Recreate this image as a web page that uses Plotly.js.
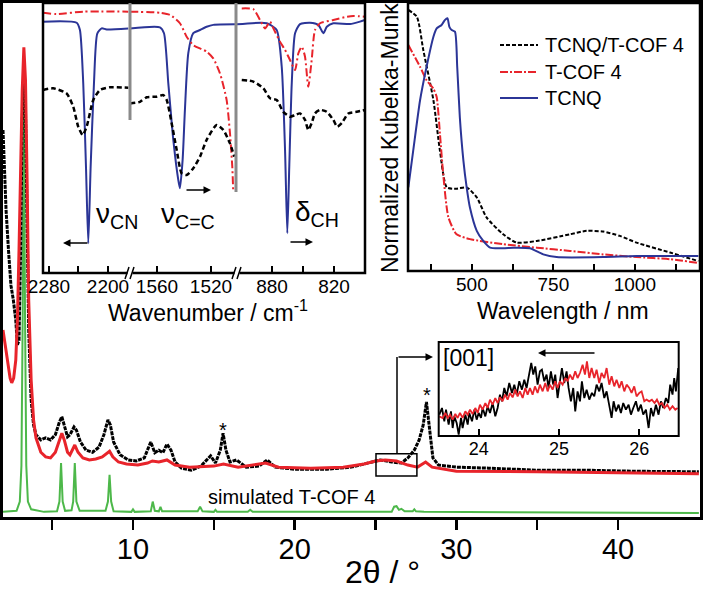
<!DOCTYPE html>
<html>
<head>
<meta charset="utf-8">
<script src="https://cdn.plot.ly/plotly-3.0.1.min.js"></script>
<style>html,body{margin:0;padding:0;background:#fff;}#chart{width:704px;height:591px;}</style>
</head>
<body>
<div id="chart"></div>
<script>
// ---------------- Main PXRD (2θ / °) ----------------
const xrdBlackX = [1.96,2.05,2.15,2.3,2.45,2.6,2.75,2.85,2.95,3.05,3.15,3.25,3.35,3.45,3.55,3.7,3.85,4.0,4.3,4.6,4.9,5.2,5.45,5.6,5.75,5.95,6.1,6.35,6.5,6.75,7.1,7.5,7.9,8.2,8.45,8.6,8.8,9.2,9.7,10.2,10.7,11.0,11.1,11.35,11.6,11.85,12.1,12.35,12.6,13.0,13.6,14.2,14.8,15.1,15.4,15.57,15.75,16.0,16.4,17.0,17.8,18.3,18.8,20,22,23.5,24.5,25.3,26.0,26.6,27.0,27.4,27.7,27.95,28.15,28.35,28.55,28.9,30,32,35,38,41,45];
const xrdBlackY = [75.3,67.5,59.7,51.9,45.1,42.2,38.3,33.5,34.4,51.9,77.2,87.0,79.2,57.8,36.4,22.8,17.9,16.0,15.0,15.4,15.0,16.0,18.5,19.5,17.9,15.6,16.0,17.5,16.9,14.6,13.0,12.6,13.6,16.0,18.9,17.9,14.6,12.1,11.1,10.9,11.5,13.6,14.6,12.5,13.0,12.5,14.2,13.0,10.7,9.5,9.1,9.9,11.9,10.5,13.0,16.3,13.0,10.7,11.1,9.7,9.9,11.1,9.7,9.3,9.3,9.7,10.5,11.1,10.7,10.5,11.5,13.0,15.0,17.9,22.4,16.9,11.5,10.1,9.7,9.5,9.1,9.1,8.9,8.8];

const xrdRedX = [1.96,2.1,2.25,2.4,2.5,2.62,2.75,2.85,2.95,3.05,3.15,3.25,3.35,3.45,3.55,3.7,3.85,4.0,4.3,4.6,4.9,5.2,5.45,5.6,5.75,5.95,6.1,6.3,6.4,6.6,6.9,7.3,7.7,8.1,8.4,8.55,8.75,9.1,9.6,10.3,10.9,11.2,11.6,12.1,12.6,13.5,15,15.6,16.5,18.2,19,21,23,24.3,25,25.6,26.3,27,27.6,28.1,28.5,30,35,40,45];
const xrdRedY = [36.4,33.5,29.6,27.0,26.1,27.0,30.5,38.3,51.9,67.5,83.1,91.4,85.0,65.6,42.2,26.7,18.9,15.4,12.6,11.7,11.5,12.6,15.0,16.3,15.0,12.6,12.1,13.4,14.0,12.6,11.5,11.1,11.3,11.7,12.5,12.8,11.7,10.7,10.3,10.1,10.5,10.9,10.7,11.1,10.1,9.7,9.9,10.3,9.7,10.5,9.7,9.5,9.7,10.3,10.9,11.1,10.9,10.1,9.7,10.7,9.7,8.9,8.8,8.6,8.4];

const xrdSimX = [1.96,2.8,3.0,3.1,3.18,3.25,3.32,3.4,3.5,3.7,4.5,5.3,5.45,5.55,5.65,5.8,6.2,6.3,6.4,6.5,6.7,8.3,8.45,8.55,8.65,8.8,9.9,10.0,10.1,11.1,11.22,11.35,11.6,11.7,11.8,14.0,14.15,14.3,15.0,15.1,15.2,17.1,17.25,17.4,20.0,26.0,26.15,26.3,26.45,26.6,26.8,27.3,27.4,27.5,28.0,45];
const xrdSimY = [1.0,1.2,3,10,40,84,40,10,3,1.5,1.0,1.1,3,10.5,3,1.2,1.3,3,10.5,3,1.2,1.2,3,8.2,3,1.1,1.0,1.5,1.0,1.1,3.0,1.2,1.1,2.0,1.1,1.1,2.0,1.1,1.0,1.4,1.0,1.0,1.4,1.0,1.0,1.0,2.0,2.1,1.4,1.6,1.1,1.1,1.5,1.1,1.0,0.8];

// ---------------- IR inset (three wavenumber windows) ----------------
const irBlueW1 = [2288,2242.4,2238.0,2233.5,2229.8,2226.7,2223.5,2219.0,2214.5,2208.5,2201.8,2172.5];
const irBlueV1 = [0.931,0.927,0.9,0.702,0.394,0.11,0.394,0.702,0.887,0.906,0.902,0.906];
const irBlueW2 = [1580,1557.8,1554.8,1551.6,1547.9,1544.2,1543.0,1541.0,1539.3,1536.8,1533.1,1528.1,1523.2,1518.3,1502.2];
const irBlueV2 = [0.906,0.91,0.888,0.702,0.493,0.344,0.314,0.419,0.604,0.814,0.888,0.9,0.912,0.919,0.921];
const irBlueW3 = [913.9,885.1,875.5,870.6,867.4,865.2,863.3,860.9,857.7,852.9,843.2,835.2,830.3,827.0,820.7,804.5,794.8,790];
const irBlueV3 = [0.921,0.925,0.9,0.764,0.456,0.147,0.394,0.702,0.888,0.922,0.927,0.919,0.888,0.912,0.925,0.922,0.931,0.937];

const irRedW1 = [2288,2269.6,2233.5,2172.5];
const irRedV1 = [0.964,0.959,0.968,0.968];
const irRedW2 = [1580,1557.8,1550.4,1543.0,1538.0,1533.1,1523.2,1518.3,1513.3,1508.4,1505.9,1504.2,1503.5];
const irRedV2 = [0.968,0.964,0.956,0.925,0.875,0.844,0.82,0.795,0.739,0.641,0.517,0.394,0.301];
const irRedW3 = [909.3,898.1,891.6,886.8,881.9,878.7,872.3,867.4,862.6,857.7,854.5,851.2,848.1,844.9,841.6,838.4,833.5,820.7,807.7,801.3,790];
const irRedV3 = [0.98,0.977,0.937,0.906,0.931,0.906,0.857,0.826,0.789,0.752,0.814,0.838,0.802,0.69,0.789,0.9,0.925,0.937,0.949,0.952,0.949];

const irBlackW1 = [2288,2274.2,2256.0,2247.1,2240.3,2234.3,2228.9,2219.9,2210.8,2197.3,2172.5];
const irBlackV1 = [0.678,0.684,0.665,0.616,0.542,0.511,0.542,0.641,0.678,0.688,0.686];
const irBlackW2 = [1580,1572.6,1567.6,1560.2,1555.3,1552.8,1549.1,1545.4,1541.7,1538.0,1533.1,1528.1,1523.2,1515.8,1510.9,1505.9,1502.7];
const irBlackV2 = [0.628,0.634,0.651,0.653,0.659,0.641,0.554,0.456,0.369,0.363,0.388,0.431,0.493,0.548,0.53,0.48,0.431];
const irBlackW3 = [909.3,898.1,888.4,881.9,875.5,869.1,862.6,857.7,852.9,848.1,844.9,841.6,838.4,833.5,827.0,820.7,816.8,812.5,806.1,798.0,790];
const irBlackV3 = [0.715,0.709,0.684,0.647,0.641,0.597,0.579,0.585,0.591,0.567,0.53,0.555,0.591,0.604,0.597,0.567,0.542,0.555,0.591,0.597,0.604];

// ---------------- UV-vis inset ----------------
const uvBlackNm = [305,331,351,382,402,423,453,484,515,545,596,637,699,801,852,903,954,1005,1108,1195];
const uvBlackV  = [0.974,0.949,0.824,0.637,0.449,0.312,0.307,0.312,0.275,0.2,0.137,0.106,0.112,0.137,0.15,0.147,0.131,0.106,0.069,0.037];
const uvRedNm = [305,341,361,382,392,402,412,428,453,494,596,699,801,903,1005,1108,1195];
const uvRedV  = [0.843,0.762,0.712,0.68,0.649,0.512,0.362,0.2,0.137,0.119,0.1,0.087,0.075,0.062,0.052,0.044,0.03];
const uvBlueNm = [305,320,341,361,382,392,407,417,425,431,438,448,455,463,474,484,494,515,535,556,596,627,678,719,760,903,1005,1195];
const uvBlueV  = [0.312,0.449,0.637,0.762,0.874,0.905,0.918,0.936,0.943,0.911,0.899,0.893,0.762,0.574,0.412,0.312,0.237,0.15,0.112,0.087,0.085,0.087,0.085,0.062,0.052,0.052,0.056,0.056];

// ---------------- [001] zoom inset ----------------
const zBlackX = [23.508,23.541,23.570,23.591,23.624,23.653,23.674,23.694,23.724,23.749,23.778,23.798,23.832,23.861,23.881,23.915,23.944,23.973,23.998,24.027,24.047,24.081,24.110,24.139,24.172,24.205,24.234,24.263,24.288,24.317,24.346,24.379,24.413,24.442,24.471,24.504,24.537,24.566,24.595,24.628,24.653,24.678,24.703,24.732,24.761,24.786,24.815,24.844,24.869,24.898,24.927,24.952,24.981,25.010,25.035,25.064,25.093,25.118,25.147,25.176,25.201,25.230,25.260,25.284,25.314,25.343,25.376,25.409,25.438,25.467,25.500,25.529,25.563,25.592,25.625,25.654,25.679,25.708,25.741,25.770,25.799,25.832,25.866,25.895,25.924,25.957,25.986,26.019,26.048,26.082,26.115,26.144,26.173,26.206,26.239,26.268,26.297,26.331,26.360,26.384,26.413,26.434,26.455,26.484];
const zBlackY = [0.227,0.298,0.156,0.280,0.121,0.262,0.085,0.209,0.138,0.014,0.192,0.085,0.227,0.121,0.245,0.156,0.280,0.174,0.245,0.192,0.298,0.209,0.316,0.245,0.351,0.209,0.298,0.440,0.369,0.511,0.422,0.564,0.458,0.546,0.440,0.582,0.493,0.599,0.511,0.670,0.777,0.653,0.741,0.546,0.688,0.706,0.582,0.653,0.511,0.688,0.546,0.653,0.404,0.582,0.723,0.564,0.688,0.511,0.369,0.511,0.262,0.475,0.369,0.582,0.404,0.493,0.387,0.458,0.422,0.546,0.475,0.564,0.404,0.475,0.333,0.192,0.369,0.262,0.333,0.245,0.351,0.280,0.333,0.227,0.298,0.369,0.262,0.333,0.227,0.280,0.085,0.298,0.209,0.333,0.227,0.369,0.298,0.404,0.351,0.546,0.440,0.617,0.475,0.723];
const zRedX = [23.508,23.549,23.583,23.612,23.641,23.674,23.707,23.736,23.765,23.798,23.832,23.861,23.890,23.923,23.956,23.985,24.014,24.047,24.081,24.110,24.139,24.172,24.205,24.234,24.263,24.296,24.326,24.359,24.388,24.421,24.454,24.483,24.512,24.546,24.579,24.608,24.637,24.670,24.699,24.732,24.761,24.795,24.828,24.857,24.886,24.919,24.952,24.981,25.010,25.044,25.077,25.106,25.135,25.168,25.201,25.230,25.260,25.293,25.322,25.347,25.376,25.405,25.438,25.467,25.500,25.529,25.563,25.592,25.625,25.654,25.687,25.716,25.750,25.779,25.812,25.841,25.874,25.903,25.936,25.965,25.999,26.028,26.061,26.090,26.123,26.156,26.189,26.219,26.248,26.281,26.314,26.347,26.380,26.413,26.447,26.476];
const zRedY = [0.209,0.192,0.245,0.192,0.227,0.174,0.234,0.192,0.245,0.192,0.262,0.227,0.280,0.234,0.298,0.245,0.333,0.280,0.351,0.298,0.387,0.333,0.404,0.351,0.411,0.369,0.440,0.387,0.458,0.411,0.493,0.422,0.475,0.404,0.511,0.440,0.511,0.440,0.528,0.458,0.546,0.475,0.564,0.475,0.546,0.493,0.582,0.511,0.582,0.546,0.617,0.582,0.653,0.599,0.688,0.617,0.670,0.759,0.653,0.794,0.617,0.723,0.617,0.706,0.564,0.670,0.617,0.723,0.546,0.635,0.528,0.599,0.511,0.582,0.475,0.546,0.511,0.458,0.528,0.422,0.458,0.475,0.369,0.387,0.369,0.387,0.351,0.387,0.333,0.351,0.298,0.333,0.280,0.316,0.280,0.298];

// series names (UV legend)
const uvSeriesNames = ['TCNQ/T-COF 4', 'T-COF 4', 'TCNQ'];

// ---------------- styling & helpers ----------------
const W = 704, H = 591;
const px = v => v / W;
const py = v => 1 - v / H;
const FONT = 'Arial, "Liberation Sans", sans-serif';
const BLACK = '#000000', RED = '#e8242b', BLUE = '#2b3597', GREEN = '#4db84a';
const DASH_BLACK_UV = '4px,2px', DASH_RED_UV = '8px,2px,2px,2px';

const traces = [];
// main
traces.push({x: xrdSimX, y: xrdSimY, xaxis:'x', yaxis:'y', mode:'lines', line:{color:GREEN, width:2}});
traces.push({x: xrdBlackX, y: xrdBlackY, xaxis:'x', yaxis:'y', mode:'lines', line:{color:BLACK, width:3, dash:'4px,1px'}});
traces.push({x: xrdRedX, y: xrdRedY, xaxis:'x', yaxis:'y', mode:'lines', line:{color:RED, width:3}});

// IR
const irSets = [
  ['x2', irBlackW1, irBlackV1, irRedW1, irRedV1, irBlueW1, irBlueV1],
  ['x3', irBlackW2, irBlackV2, irRedW2, irRedV2, irBlueW2, irBlueV2],
  ['x4', irBlackW3, irBlackV3, irRedW3, irRedV3, irBlueW3, irBlueV3]
];
irSets.forEach(s => {
  traces.push({x:s[5], y:s[6], xaxis:s[0], yaxis:'y2', mode:'lines', line:{color:BLUE, width:2, shape:'spline', smoothing:0.6}});
  traces.push({x:s[3], y:s[4], xaxis:s[0], yaxis:'y2', mode:'lines', line:{color:RED, width:2, dash:'8px,3px,2px,3px', shape:'spline', smoothing:0.6}});
  traces.push({x:s[1], y:s[2], xaxis:s[0], yaxis:'y2', mode:'lines', line:{color:BLACK, width:2.5, dash:'5px,3px', shape:'spline', smoothing:0.6}});
});

// UV
traces.push({x: uvBlackNm, y: uvBlackV, xaxis:'x5', yaxis:'y3', mode:'lines', name:uvSeriesNames[0], line:{color:BLACK, width:2, dash:DASH_BLACK_UV, shape:'spline', smoothing:0.6}});
traces.push({x: uvRedNm, y: uvRedV, xaxis:'x5', yaxis:'y3', mode:'lines', name:uvSeriesNames[1], line:{color:RED, width:2, dash:DASH_RED_UV, shape:'spline', smoothing:0.6}});
traces.push({x: uvBlueNm, y: uvBlueV, xaxis:'x5', yaxis:'y3', mode:'lines', name:uvSeriesNames[2], line:{color:BLUE, width:2, shape:'spline', smoothing:0.6}});

// zoom inset
traces.push({x: zBlackX, y: zBlackY, xaxis:'x6', yaxis:'y4', mode:'lines', line:{color:BLACK, width:1.8}});
traces.push({x: zRedX, y: zRedY, xaxis:'x6', yaxis:'y4', mode:'lines', line:{color:RED, width:1.8}});

const hidden = {showgrid:false, zeroline:false, showline:false, showticklabels:false, ticks:''};
const insetX = (dom, rng, anchor, vals, text) => ({
  domain: dom, range: rng, anchor: anchor, showgrid:false, zeroline:false, showline:false,
  tickmode:'array', tickvals: vals, ticktext: text, ticks:'inside', ticklen:7, tickwidth:2, tickcolor:'#000',
  tickangle:0, tickfont:{family:FONT, size:19, color:'#000'}
});

const txt = (x, y, text, size, extra) => Object.assign({xref:'paper', yref:'paper', x:px(x), y:py(y), text:text,
  showarrow:false, xanchor:'center', yanchor:'middle', font:{family:FONT, size:size, color:'#000'}}, extra || {});
const arrow = (x, y, ax) => ({xref:'paper', yref:'paper', x:px(x), y:py(y), ax:ax, ay:0, axref:'pixel', ayref:'pixel',
  text:'', showarrow:true, arrowhead:2, arrowsize:1, arrowwidth:1.5, arrowcolor:'#000'});
const pline = (x0, y0, x1, y1, color, width, dash) => ({type:'line', xref:'paper', yref:'paper',
  x0:px(x0), y0:py(y0), x1:px(x1), y1:py(y1), line:{color:color, width:width, dash:dash || 'solid'}});

const legendRows = [45, 72, 98];
const legendStyles = [[BLACK, DASH_BLACK_UV], [RED, DASH_RED_UV], [BLUE, 'solid']];

const layout = {
  width: W, height: H, margin:{l:0, r:0, t:0, b:0}, paper_bgcolor:'#fff', plot_bgcolor:'rgba(0,0,0,0)',
  font:{family:FONT, color:'#000'}, showlegend:false,
  xaxis: {domain:[px(3), px(700)], range:[1.96, 45.07], anchor:'y', showgrid:false, zeroline:false,
          showline:true, mirror:true, linewidth:3, linecolor:'#000',
          tickmode:'array', tickvals:[5,10,15,20,25,30,35,40], ticktext:['','10','','20','','30','','40'],
          ticks:'outside', ticklen:10, tickwidth:2.5, tickcolor:'#000', tickangle:0, ticklabelstandoff:-6,
          tickfont:{family:FONT, size:29, color:'#000'}},
  yaxis: Object.assign({}, hidden, {domain:[py(517), py(3)], range:[0,100], anchor:'x', showline:true, mirror:true, linewidth:3, linecolor:'#000'}),
  xaxis2: insetX([px(43), px(130)], [2288, 2170.2], 'y2', [2280,2240,2200], ['2280','','2200']),
  xaxis3: insetX([px(130), px(237)], [1580, 1500.7], 'y2', [1560,1520], ['1560','1520']),
  xaxis4: insetX([px(237), px(365)], [913.9, 790], 'y2', [880,850,820], ['880','','820']),
  yaxis2: Object.assign({}, hidden, {domain:[py(273), py(3)], range:[0,1], anchor:'x2'}),
  xaxis5: insetX([px(408), px(700)], [304, 1200], 'y3', [375,500,625,750,875,1000,1125], ['','500','','750','','1000','']),
  yaxis3: Object.assign({}, hidden, {domain:[py(271), py(3)], range:[0,1], anchor:'x5'}),
  xaxis6: Object.assign(insetX([px(438.7), px(678.7)], [23.5, 26.49], 'y4', [24,25,26], ['24','25','26']), {tickfont:{family:FONT, size:18, color:'#000'}}),
  yaxis4: Object.assign({}, hidden, {domain:[py(436), py(342)], range:[0,1], anchor:'x6'}),
  shapes: [
    // inset frames
    {type:'rect', xref:'paper', yref:'paper', x0:px(43), x1:px(365), y0:py(273), y1:py(3), line:{color:'#000', width:2.5}},
    {type:'rect', xref:'paper', yref:'paper', x0:px(408), x1:px(700), y0:py(271), y1:py(3), line:{color:'#000', width:2.5}},
    {type:'rect', xref:'paper', yref:'paper', x0:px(438.7), x1:px(678.7), y0:py(436), y1:py(342), line:{color:'#000', width:2}},
    // axis-break markers
    pline(130, 3, 130, 120, '#8a8a8a', 3),
    pline(236, 3, 236, 192, '#8a8a8a', 3),
    {type:'rect', xref:'paper', yref:'paper', x0:px(127.5), x1:px(132.5), y0:py(276), y1:py(270), fillcolor:'#fff', line:{width:0}},
    pline(125, 279, 129, 267, '#000', 1.5),
    pline(130, 279, 134, 267, '#000', 1.5),
    {type:'rect', xref:'paper', yref:'paper', x0:px(234.5), x1:px(239.5), y0:py(276), y1:py(270), fillcolor:'#fff', line:{width:0}},
    pline(232, 279, 236, 267, '#000', 1.5),
    pline(237, 279, 241, 267, '#000', 1.5),
    // zoom region box on the main pattern + bracket
    {type:'rect', xref:'x', yref:'y', x0:25.03, x1:27.56, y0:8.0, y1:12.3, line:{color:'#000', width:1.5}},
    pline(397, 454, 397, 357, '#000', 1.5)
  ].concat(legendRows.map((r, i) => pline(500, r, 538, r, legendStyles[i][0], 2, legendStyles[i][1]))),
  annotations: [
    txt(382, 572, '2θ / °', 32),
    txt(208, 311, 'Wavenumber / cm<sup>-1</sup>', 23),
    txt(563, 311, 'Wavelength / nm', 23),
    txt(390, 138, 'Normalized Kubelka-Munk', 23, {textangle:-90}),
    txt(291, 497, 'simulated T-COF 4', 20),
    txt(469, 358, '[001]', 23),
    {xref:'x', yref:'y', x:15.57, y:16.9, text:'*', showarrow:false, xanchor:'center', yanchor:'middle', font:{family:FONT, size:20, color:'#000'}},
    {xref:'x', yref:'y', x:28.2, y:23.7, text:'*', showarrow:false, xanchor:'center', yanchor:'middle', font:{family:FONT, size:20, color:'#000'}},
    txt(117, 215, 'ν<sub>CN</sub>', 28),
    txt(188, 215, 'ν<sub>C=C</sub>', 28),
    txt(317, 213, 'δ<sub>CH</sub>', 28),
    arrow(63, 243, 26),
    arrow(211, 190, -26),
    arrow(313, 242, -24),
    arrow(538, 353, 58),
    arrow(433, 357, -36)
  ].concat(legendRows.map((r, i) => txt(543, r, uvSeriesNames[i], 20, {xanchor:'left'})))
};

Plotly.newPlot('chart', traces, layout, {displayModeBar:false, staticPlot:true});
</script>
</body>
</html>
